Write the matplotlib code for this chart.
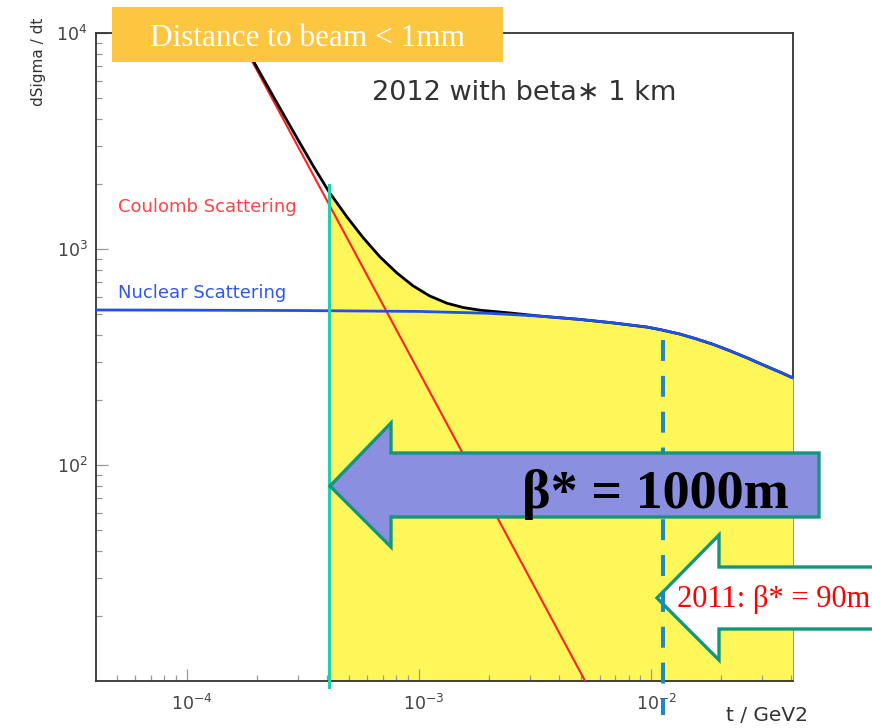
import matplotlib
matplotlib.use("Agg")
import matplotlib.pyplot as plt
from matplotlib.patches import Polygon, Rectangle
from matplotlib.lines import Line2D
from matplotlib.transforms import Affine2D, blended_transform_factory, ScaledTranslation
from matplotlib.ticker import LogLocator, NullFormatter

# ---- data ----
t_nuclear = [4.06e-5, 1e-4, 3e-4, 1e-3, 2e-3, 3.2e-3, 4.94e-3, 6.85e-3, 9.62e-3,
             1.1e-2, 1.33e-2, 1.55e-2, 1.85e-2, 2.2e-2, 2.6e-2, 3.1e-2, 3.6e-2, 4.09e-2]
s_nuclear = [522, 521, 519, 514, 504, 490, 472, 455, 435,
             423, 404, 385, 362, 337, 313, 288, 269, 253]

t_coulomb = [1.5e-4, 5.2e-3]
s_coulomb = [12000, 10]

t_total = [1.5e-4, 2e-4, 2.5e-4, 3e-4, 3.5e-4, 4.1e-4, 4.9e-4, 5.74e-4, 6.79e-4,
           8.04e-4, 9.42e-4, 1.11e-3, 1.32e-3, 1.55e-3, 1.83e-3, 2.5e-3, 3.2e-3,
           4.94e-3, 6.85e-3, 9.62e-3, 1.1e-2, 1.33e-2, 1.55e-2, 1.85e-2, 2.2e-2,
           2.6e-2, 3.1e-2, 3.6e-2, 4.09e-2]
s_total = [12200, 6950, 4550, 3230, 2427, 1837, 1406, 1130, 920, 774, 676, 607, 561,
           536, 521, 505, 491, 472, 455, 435, 423, 404, 385, 362, 337,
           313, 288, 269, 253]

t_cut = 4.1e-4          # distance to beam < 1 mm
t_2011 = 1.13e-2        # 2011 beta* = 90 m limit
x_ticks = [1e-4, 1e-3, 1e-2]
y_ticks = [1e2, 1e3, 1e4]

W, H = 872, 728
fig = plt.figure(figsize=(W / 100, H / 100), dpi=100)
ax = fig.add_axes([96 / W, 1 - 681 / H, (793 - 96) / W, (681 - 33) / H])
ax.set_xscale("log")
ax.set_yscale("log")
ax.set_xlim(4.06e-5, 4.09e-2)
ax.set_ylim(10, 1e4)

# fill under total curve right of the cut
tf = [t for t in t_total if t >= t_cut]
sf = [s for t, s in zip(t_total, s_total) if t >= t_cut]
ax.fill_between(tf, 10, sf, color="#fff75a", lw=0, zorder=1)

ax.plot(t_coulomb, s_coulomb, color="#ff2222", lw=1.5, zorder=3)
ax.plot(t_total, s_total, color="black", lw=2.0, zorder=3, solid_joinstyle="round")
ax.plot(t_nuclear, s_nuclear, color="#2050e8", lw=2.0, zorder=3.5, solid_joinstyle="round")
ax.plot([t_cut, t_cut], [9.4, 1977], color="#20d0a8", lw=2.2, zorder=4, clip_on=False)

# axes styling
for sp in ax.spines.values():
    sp.set_color("#333333")
    sp.set_linewidth(1.3)
ax.spines["right"].set_zorder(0.5)
ax.set_xticks(x_ticks)
ax.set_yticks(y_ticks)
ax.xaxis.set_minor_locator(LogLocator(base=10, subs=range(2, 10), numticks=20))
ax.yaxis.set_minor_locator(LogLocator(base=10, subs=range(2, 10), numticks=20))
ax.xaxis.set_minor_formatter(NullFormatter())
ax.yaxis.set_minor_formatter(NullFormatter())
ax.tick_params(which="both", direction="in", color="#999999", width=0.9,
               top=False, right=False, labelcolor="#444444", labelsize=12.5)
ax.tick_params(which="major", length=8.5)
ax.tick_params(which="minor", length=4.3)
ax.tick_params(axis="x", pad=9)
ax.tick_params(axis="y", pad=6)
shift = ScaledTranslation(5 / 100, 0, fig.dpi_scale_trans)
for lab in ax.get_xticklabels():
    lab.set_transform(lab.get_transform() + shift)

pix = Affine2D().scale(1 / W, -1 / H).translate(0, 1) + fig.transFigure

# axis titles
fig.text(38, 18, "dSigma / dt", rotation=90, ha="center", va="top",
         fontsize=11, color="#333333", transform=pix)
fig.text(808, 721, "t / GeV2", ha="right", va="baseline",
         fontsize=14.5, color="#333333", transform=pix)

# curve labels
fig.text(118, 212, "Coulomb Scattering", ha="left", va="baseline",
         fontsize=13, color="#ff4444", transform=pix, zorder=5)
fig.text(118, 298, "Nuclear Scattering", ha="left", va="baseline",
         fontsize=13, color="#3058ee", transform=pix, zorder=5)
fig.text(372, 100, "2012 with beta\u2217 1 km", ha="left", va="baseline",
         fontsize=19.5, color="#333333", transform=pix, zorder=5)

# small (2011) arrow
small = Polygon([(657, 598), (719, 535), (719, 567), (900, 567), (900, 629),
                 (719, 629), (719, 660)], closed=True, fc="white", ec="#15967c",
                lw=2.4, joinstyle="miter", transform=pix, zorder=5)
fig.add_artist(small)
fig.text(677, 607, "2011: \u03b2* = 90m", ha="left", va="baseline",
         fontsize=22, color="#ff0000", family="Liberation Serif",
         transform=pix, zorder=5.5)

# dashed 2011 line
dash_tr = blended_transform_factory(ax.transData, pix)
dl = Line2D([t_2011, t_2011], [340, 715], color="#1e88c8", lw=2.9,
            linestyle=(0, (5.2, 3.7)), transform=dash_tr, zorder=6)
fig.add_artist(dl)

# big (1000 m) arrow
big = Polygon([(330, 486), (391, 423), (391, 453), (819, 453), (819, 517),
               (391, 517), (391, 547)], closed=True, fc="#8b8fe0", ec="#15967c",
              lw=2.4, joinstyle="miter", transform=pix, zorder=7)
fig.add_artist(big)
fig.text(655, 508, "\u03b2* = 1000m", ha="center", va="baseline",
         fontsize=39, fontweight="bold", color="black", family="Liberation Serif",
         transform=pix, zorder=7.5)

# orange box
box = Rectangle((112, 7), 391, 55, fc="#fdc640", ec="none", transform=pix, zorder=8)
fig.add_artist(box)
fig.text(307, 46, "Distance to beam < 1mm", ha="center", va="baseline",
         fontsize=22.5, color="white", family="Liberation Serif",
         transform=pix, zorder=9)

fig.savefig("out.png", dpi=100)
